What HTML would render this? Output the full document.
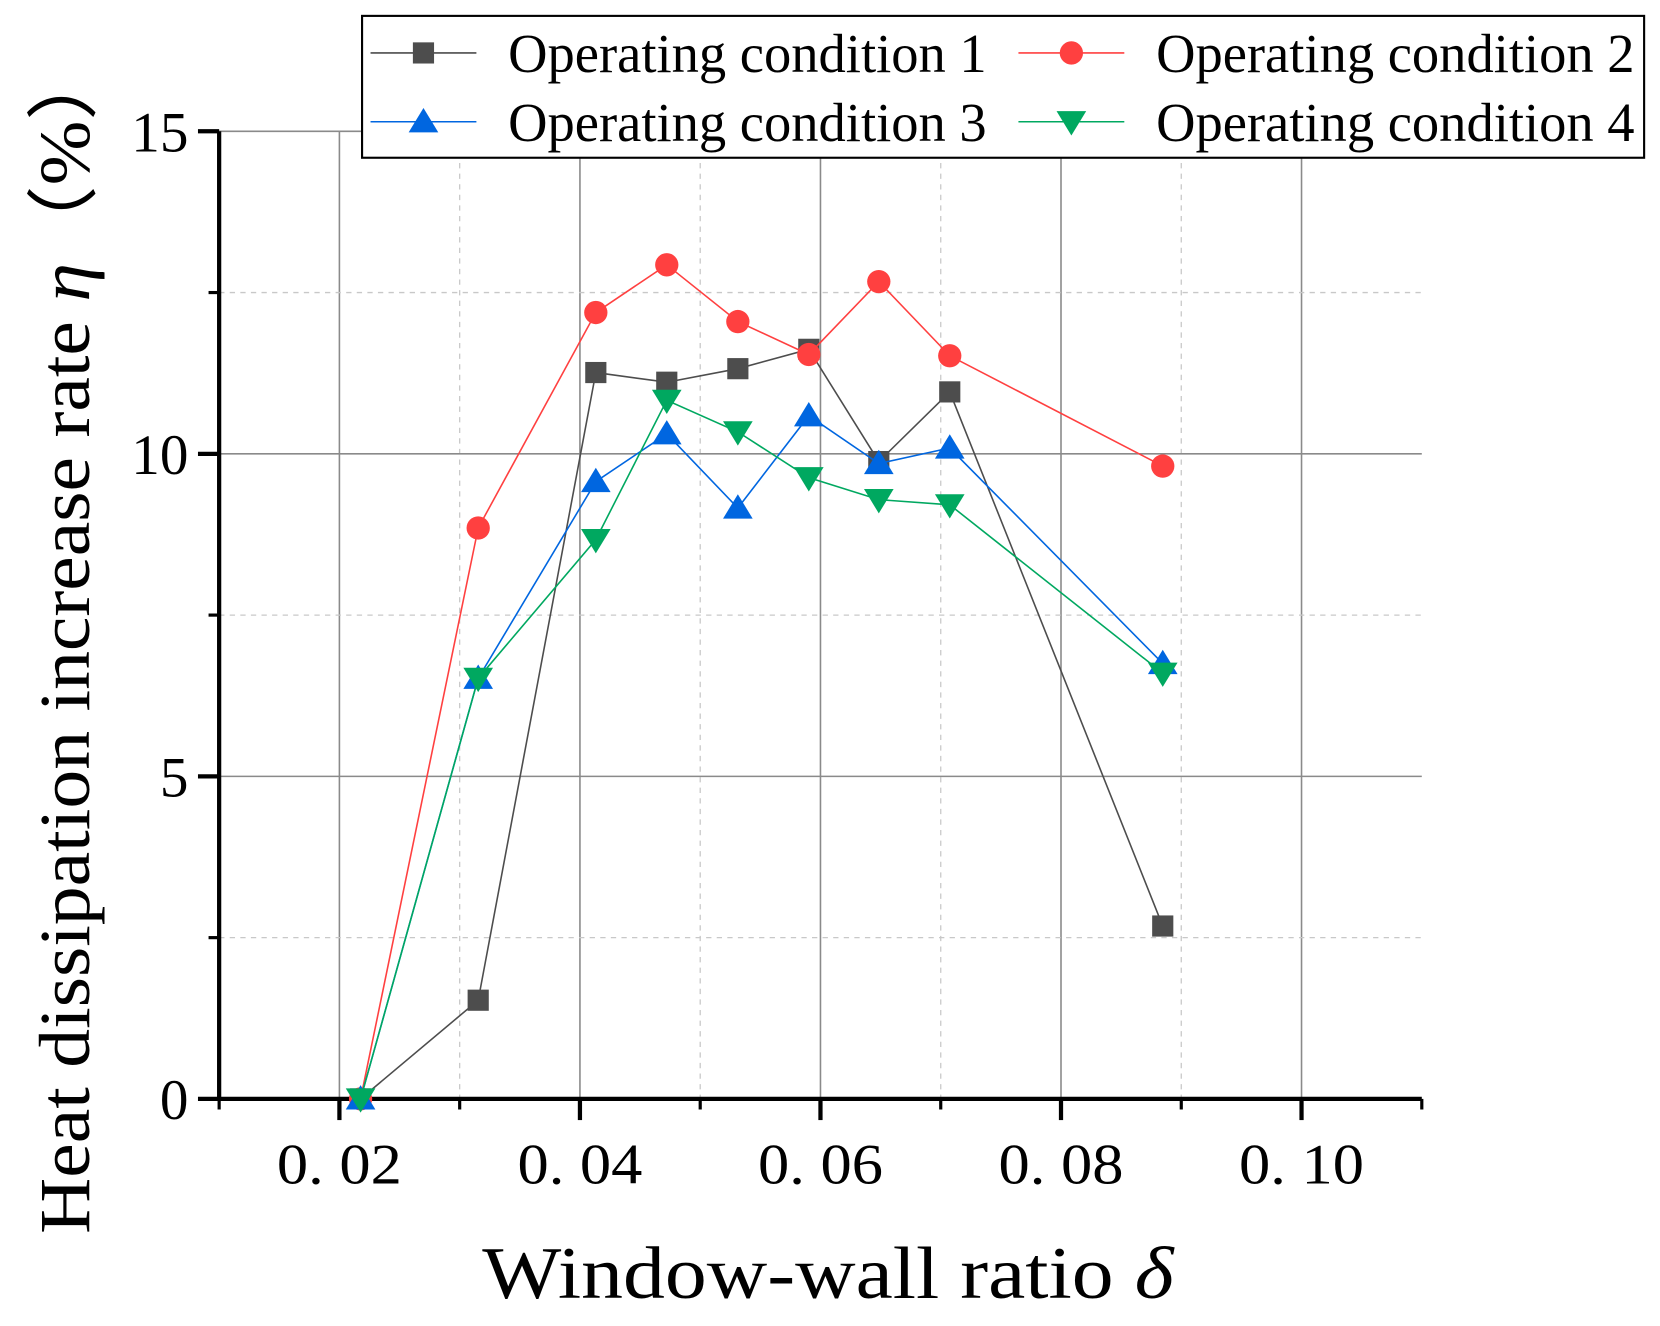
<!DOCTYPE html>
<html><head><meta charset="utf-8"><style>
html,body{margin:0;padding:0;background:#fff}
svg{display:block}
text{font-family:"Liberation Serif",serif;fill:#000}
</style></head><body>
<svg id="chart" width="1660" height="1326" viewBox="0 0 1568 1252.5" xmlns="http://www.w3.org/2000/svg">
<g id="grid"></g>
<g id="axes"></g>
<g id="series"></g>
<text transform="translate(84,603) rotate(-90)" text-anchor="middle" font-size="68" textLength="1125" lengthAdjust="spacingAndGlyphs">Heat dissipation increase rate <tspan font-style="italic">η</tspan>（%）</text>
<text x="782" y="1226" text-anchor="middle" font-size="70" textLength="653" lengthAdjust="spacingAndGlyphs">Window-wall ratio <tspan font-style="italic">δ</tspan></text>
<g id="legend"></g>
</svg>
<script>
const xVals=[0.02176,0.03154,0.04132,0.04722,0.05313,0.05903,0.06485,0.07075,0.08846];
const s1=[0,1.53,11.26,11.11,11.32,11.62,9.88,10.96,2.68];
const s2=[0,8.85,12.19,12.93,12.05,11.54,12.67,11.52,9.81];
const s3=[0,6.52,9.57,10.31,9.16,10.59,9.85,10.09,6.75];
const s4=[0,6.52,8.67,10.83,10.34,9.63,9.29,9.21,6.6];
const seriesNames=["Operating condition 1","Operating condition 2","Operating condition 3","Operating condition 4"];
const xTicks=[0.02,0.04,0.06,0.08,0.10];
const xTickLabels=["0. 02","0. 04","0. 06","0. 08","0. 10"];
const yTicks=[0,5,10,15];
const yTickLabels=["0","5","10","15"];

const NS="http://www.w3.org/2000/svg";
const L=207,R=1343,T=124,B=1038;
const xMin=0.01,xMax=0.11,yMin=0,yMax=15;
const X=v=>L+(v-xMin)/(xMax-xMin)*(R-L);
const Y=v=>B-(v-yMin)/(yMax-yMin)*(B-T);
function mk(tag,attrs,parent){const e=document.createElementNS(NS,tag);for(const k in attrs)e.setAttribute(k,attrs[k]);parent.appendChild(e);return e;}
const grid=document.getElementById('grid'),axes=document.getElementById('axes'),ser=document.getElementById('series'),leg=document.getElementById('legend');

for(let i=0;i<5;i++){
  const v=xTicks[i];
  let g=mk('line',{x1:X(v),x2:X(v),y1:T,y2:B,stroke:'#8a8a8a','stroke-width':1.5},grid);
  
  const m=v+0.01;
  if(m<xMax){g=mk('line',{x1:X(m),x2:X(m),y1:T,y2:B,stroke:'#c8c8c8','stroke-width':1.2,'stroke-dasharray':'5,5'},grid);
  }
}
for(let i=1;i<yTicks.length;i++){
  const v=yTicks[i];
  let g=mk('line',{x1:L,x2:R,y1:Y(v),y2:Y(v),stroke:'#8a8a8a','stroke-width':1.5},grid);
  
}
for(let v=2.5;v<15;v+=5){
  let g=mk('line',{x1:L,x2:R,y1:Y(v),y2:Y(v),stroke:'#c8c8c8','stroke-width':1.2,'stroke-dasharray':'5,5'},grid);
  
}
let a=mk('line',{x1:L,x2:L,y1:T,y2:B+2,stroke:'#000','stroke-width':4},axes);

a=mk('line',{x1:L-2,x2:R,y1:B,y2:B,stroke:'#000','stroke-width':4},axes);

for(let v=xMin;v<=xMax+1e-9;v+=0.01){
  const major=xTicks.some(t=>Math.abs(t-v)<1e-6);
  a=mk('line',{x1:X(v),x2:X(v),y1:B,y2:B+(major?20:10),stroke:'#000','stroke-width':major?4:3},axes);
  
}
xTicks.forEach((v,i)=>{const t=mk('text',{x:X(v),y:1118,'text-anchor':'middle','font-size':54,textLength:118,lengthAdjust:'spacingAndGlyphs'},axes);t.textContent=xTickLabels[i];
  });
for(let v=0;v<=15;v+=2.5){
  const major=v%5===0;
  a=mk('line',{x1:L-(major?20:10),x2:L,y1:Y(v),y2:Y(v),stroke:'#000','stroke-width':major?4:3},axes);
  
}
yTicks.forEach((v,i)=>{const t=mk('text',{x:178,y:Y(v)+19,'text-anchor':'end','font-size':54},axes);t.textContent=yTickLabels[i];
  });

const colors=['#4d4d4d','#ff4040','#0066e0','#00a860'];
function marker(kind,cx,cy,color,parent){
  const s=10;let e;
  if(kind===0)e=mk('rect',{x:cx-s,y:cy-s,width:2*s,height:2*s,fill:color},parent);
  else if(kind===1)e=mk('circle',{cx:cx,cy:cy,r:11,fill:color},parent);
  else if(kind===2)e=mk('polygon',{points:`${cx},${cy-13} ${cx-14},${cy+10} ${cx+14},${cy+10}`,fill:color},parent);
  else e=mk('polygon',{points:`${cx},${cy+13} ${cx-14},${cy-10} ${cx+14},${cy-10}`,fill:color},parent);
  return e;
}
[s1,s2,s3,s4].forEach((d,k)=>{
  const g=mk('g',{},ser);
  
  const pl=mk('polyline',{points:d.map((v,i)=>X(xVals[i])+','+Y(v)).join(' '),fill:'none',stroke:colors[k],'stroke-width':1.5},g);
  
  d.forEach((v,i)=>{const m=marker(k,X(xVals[i]),Y(v),colors[k],g);
    });
});

let box=mk('rect',{x:342,y:15,width:1211,height:134,fill:'#fff',stroke:'#000','stroke-width':2},leg);

const pos=[[350,50],[962,50],[350,115],[962,115]];
seriesNames.forEach((n,k)=>{
  const [lx,ly]=pos[k];
  const g=mk('g',{},leg);
  
  mk('line',{x1:lx,x2:lx+100,y1:ly,y2:ly,stroke:colors[k],'stroke-width':1.5},g);
  marker(k,lx+50,ly,colors[k],g);
  const t=mk('text',{x:lx+130,y:ly+18,'font-size':52,textLength:452,lengthAdjust:'spacingAndGlyphs'},g);t.textContent=n;
  
});
</script>
</body></html>
